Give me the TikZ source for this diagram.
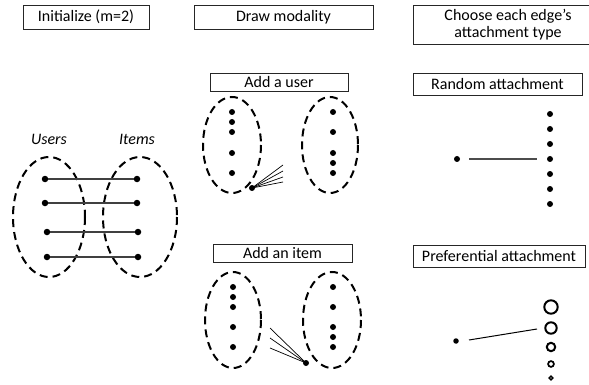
\documentclass[tikz,border=0pt]{standalone}
\usepackage{fontspec}
\setmainfont{Carlito}
\begin{document}
\begin{tikzpicture}[x=1pt,y=-1pt,
  lab/.style={draw=black!85,line width=0.9pt,inner sep=0pt,font=\fontsize{16}{17.5}\selectfont,align=center},
  dot/.style={circle,fill=black,inner sep=0pt,minimum size=6.5pt},
  sdot/.style={circle,fill=black,inner sep=0pt,minimum size=6pt},
  ring/.style={circle,draw=black,line width=2pt,inner sep=0pt},
  grp/.style={line width=2pt,dash pattern=on 8pt off 5pt},
  tie/.style={draw=black!75,line width=1.3pt},
  fan/.style={draw=black,line width=0.7pt},
  captxt/.style={font=\fontsize{16}{17.5}\selectfont\itshape}]
\useasboundingbox (0,0) rectangle (589,385);
% headers
\node[lab,minimum width=126pt,minimum height=24pt] (h1) at (86,17) {Initialize (m=2)};
\node[lab,minimum width=179pt,minimum height=24pt] (h2) at (283.5,17) {Draw modality};
\node[lab,minimum width=190pt,minimum height=39pt] (h3) at (508,24.5) {Choose each edge’s\\attachment type};
% init
\node[captxt] (cu) at (49,139) {Users};
\node[captxt] (ci) at (137,139) {Items};
\draw[grp] (49,217) ellipse (36 and 60);
\draw[grp] (140,217) ellipse (37 and 60);
\node[dot] (u1) at (45,179) {};
\node[dot] (u2) at (45,203) {};
\node[dot] (u3) at (47,232) {};
\node[dot] (u4) at (47,257) {};
\node[dot] (i1) at (137,179) {};
\node[dot] (i2) at (137,203) {};
\node[dot] (i3) at (138,232) {};
\node[dot] (i4) at (138,257) {};
\draw[tie] (u1) -- (i1);
\draw[tie] (u2) -- (i2);
\draw[tie] (u3) -- (i3);
\draw[tie] (u4) -- (i4);
% add a user
\node[lab,minimum width=138pt,minimum height=18pt] (au) at (279,82) {Add a user};
\draw[grp] (232,145) ellipse (29 and 48);
\draw[grp] (330,145) ellipse (28 and 48);
\node[sdot] (a1) at (232,112) {};
\node[sdot] (a2) at (232,122) {};
\node[sdot] (a3) at (232,132) {};
\node[sdot] (a4) at (232,153) {};
\node[sdot] (a5) at (232,173) {};
\node[sdot] (b1) at (333,112) {};
\node[sdot] (b2) at (333,132) {};
\node[sdot] (b3) at (333,153) {};
\node[sdot] (b4) at (333,163) {};
\node[sdot] (b5) at (333,173) {};
\node[sdot] (nu) at (252,188) {};
\coordinate (fu1) at (283,165);
\coordinate (fu2) at (283,171);
\coordinate (fu3) at (283,177);
\coordinate (fu4) at (283,182);
\foreach \k in {1,...,4} \draw[fan] (nu.center) -- (fu\k);
% add an item
\node[lab,minimum width=139pt,minimum height=18pt] (ai) at (282.5,253) {Add an item};
\draw[grp] (233,320) ellipse (28 and 48);
\draw[grp] (332,320) ellipse (29 and 48);
\node[sdot] (c1) at (233,287) {};
\node[sdot] (c2) at (233,297) {};
\node[sdot] (c3) at (233,307) {};
\node[sdot] (c4) at (233,327) {};
\node[sdot] (c5) at (233,347) {};
\node[sdot] (d1) at (333,287) {};
\node[sdot] (d2) at (333,307) {};
\node[sdot] (d3) at (333,327) {};
\node[sdot] (d4) at (333,337) {};
\node[sdot] (d5) at (333,347) {};
\node[sdot] (ni) at (306,363) {};
\coordinate (fi1) at (270,328);
\coordinate (fi2) at (270,338);
\coordinate (fi3) at (270,348);
\foreach \k in {1,...,3} \draw[fan] (ni.center) -- (fi\k);
% random attachment
\node[lab,minimum width=169pt,minimum height=22pt] (ra) at (497.5,84) {Random attachment};
\foreach \k/\y in {1/114,2/129,3/144,4/159,5/174,6/189,7/204}
  \node[sdot] (r\k) at (550,\y) {};
\node[sdot] (rn) at (457,159) {};
\coordinate (rs) at (469,159);
\coordinate (re) at (537,159);
\draw[draw=black!70,line width=1.2pt] (rs) -- (re);
% preferential attachment
\node[lab,minimum width=172pt,minimum height=22pt] (pa) at (499,256) {Preferential attachment};
\node[ring,minimum size=13.4pt] (p1) at (551,307) {};
\node[ring,minimum size=11.4pt] (p2) at (551,328) {};
\node[ring,minimum size=8.4pt] (p3) at (551,347) {};
\node[ring,minimum size=5.8pt,line width=1.7pt] (p4) at (551,364) {};
\node[ring,minimum size=3.6pt,line width=1.4pt] (p5) at (551,378) {};
\node[circle,fill=black,inner sep=0pt,minimum size=5.5pt] (pn) at (456,341) {};
\coordinate (ps) at (469,340);
\coordinate (pe) at (537,329);
\draw[black,line width=1pt] (ps) -- (pe);
\end{tikzpicture}
\end{document}
